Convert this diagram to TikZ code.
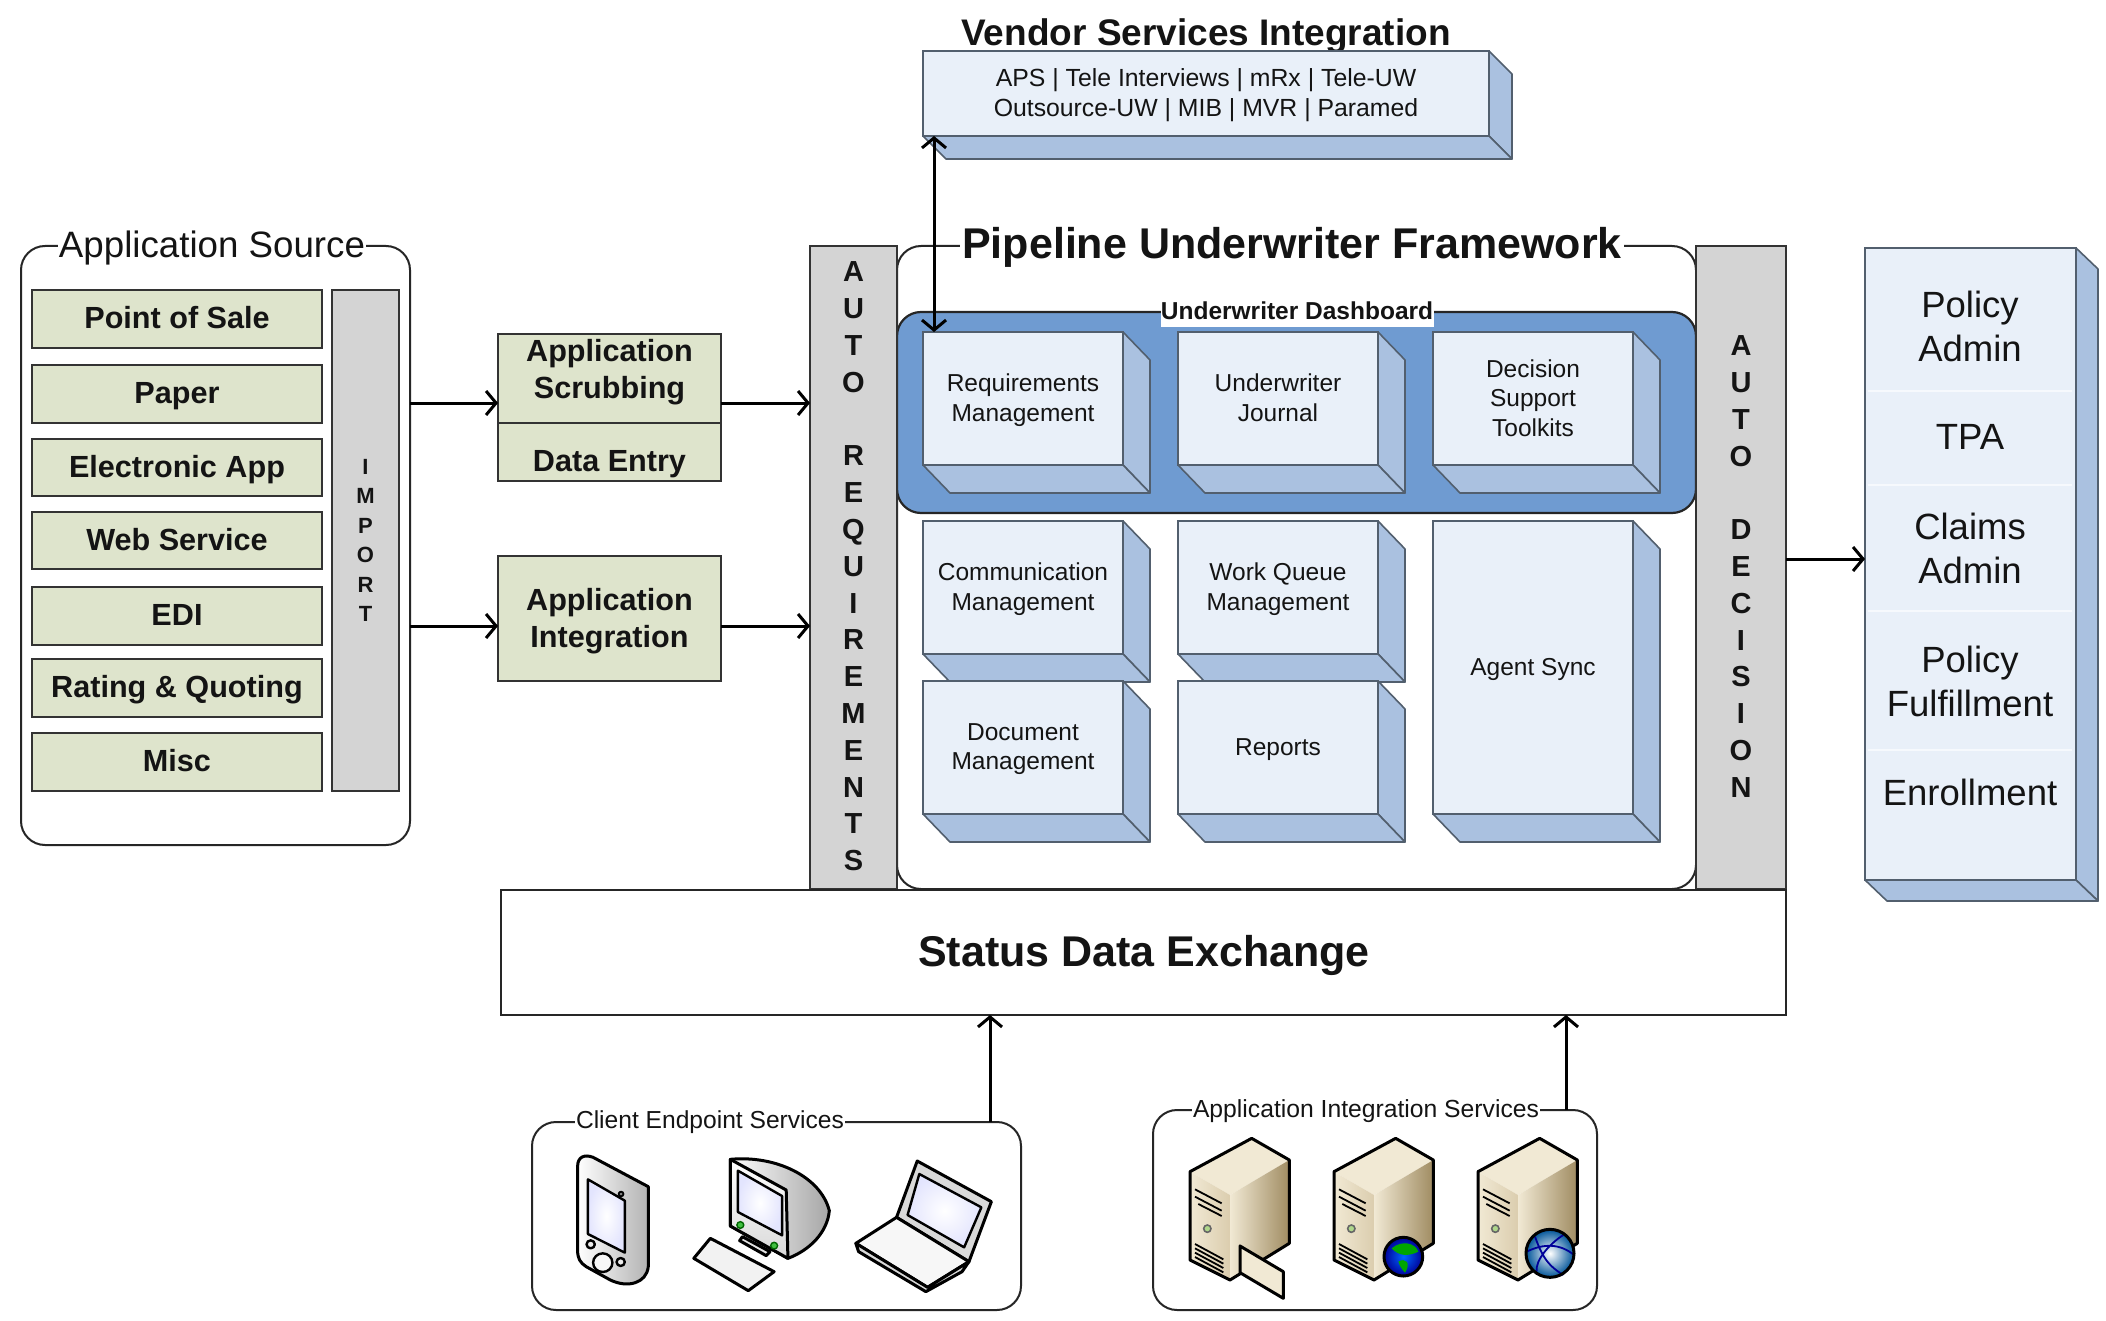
\documentclass[tikz,border=0pt]{standalone}
\usepackage{fontspec}
\setmainfont{Liberation Sans}
\usetikzlibrary{arrows.meta}
\definecolor{faceblue}{HTML}{E9F0F9}
\definecolor{sideblue}{HTML}{AAC1E0}
\definecolor{dashblue}{HTML}{6F9BD1}
\definecolor{edgeblue}{HTML}{525F6E}
\definecolor{greenbox}{HTML}{DEE4CC}
\definecolor{grayband}{HTML}{D4D4D4}
\definecolor{srvlight}{HTML}{F1E9D4}
\definecolor{srvmid}{HTML}{DBCDAE}
\definecolor{srvdark}{HTML}{A08C62}
\newcommand\fz[2]{\fontsize{#1}{#2}\selectfont}
\tikzset{
  every node/.style={inner sep=0pt,outer sep=0pt,text=black!92},
  greenstyle/.style={draw=black!80,line width=2.5pt,fill=greenbox},
  greentext/.style={font=\fz{30.6}{37}\bfseries,align=center},
  greenone/.style={greenstyle,greentext,text height=22pt,text depth=3pt},
  bandstyle/.style={draw=black!80,line width=2.5pt,fill=grayband,align=center},
  roundbox/.style={draw=black!85,line width=2pt,rounded corners=24pt,fill=white},
  titlelabel/.style={fill=white,inner xsep=1pt,inner ysep=1pt},
  faceplain/.style={draw=edgeblue,line width=1.6pt,fill=faceblue},
  facetext/.style={font=\fz{24.5}{29.5},align=center},
  sideface/.style={draw=edgeblue,line width=1.6pt,fill=sideblue,line join=round},
  arr/.style={draw=black,line width=3pt,-{Straight Barb[length=10pt,width=24pt,line width=3pt]}},
  arrboth/.style={draw=black,line width=3pt,{Straight Barb[length=10pt,width=24pt,line width=3pt]}-{Straight Barb[length=10pt,width=24pt,line width=3pt]}},
  icon/.style={draw=black,line width=3pt,line join=round},
  thinicon/.style={draw=black,line width=1.8pt,line join=round},
}
% box given by its corners: [style]{name}{x1}{y1}{x2}{y2}{text}
\newcommand\bx[7][]{%
  \pgfmathsetmacro\bxcx{(#3+#5)/2}\pgfmathsetmacro\bxcy{(#4+#6)/2}%
  \pgfmathsetmacro\bxw{#5-#3}\pgfmathsetmacro\bxh{#6-#4}%
  \node[#1,minimum width=\bxw pt,minimum height=\bxh pt,anchor=center] (#2) at (\bxcx,\bxcy) {#7};}
% cuboid: {depth x}{depth y}{name}{x1}{y1}{x2}{y2}{text}
\newcommand\cuboid[8]{%
  \bx[faceplain]{#3}{#4}{#5}{#6}{#7}{}%
  \node[facetext,yshift=-1.7pt] (#3text) at (#3.center) {#8};%
  \draw[sideface] (#3.north east) -- ++(#1,#2) -- ([shift={(#1,#2)}]#3.south east) -- (#3.south east) -- cycle;%
  \draw[sideface] (#3.south west) -- ++(#1,#2) -- ([shift={(#1,#2)}]#3.south east) -- (#3.south east) -- cycle;}
\newcommand\server[1]{%
  \begin{scope}[shift={(#1,0)}]
    \fill[srvlight] (180,275) -- (365,175) -- (478,240) -- (300,345) -- cycle;
    \shade[left color=srvlight,right color=srvmid] (180,275) -- (300,345) -- (300,600) -- (180,540) -- cycle;
    \shade[left color=srvlight,right color=srvdark] (300,345) -- (478,240) -- (478,490) -- (300,600) -- cycle;
    \draw[icon] (180,275) -- (365,175) -- (478,240) -- (478,490) -- (300,600) -- (180,540) -- cycle;
    \draw[thinicon] (195,328) -- (275,370) (195,350) -- (275,392) (205,372) -- (275,408);
    \draw[draw=black!60,line width=1.6pt,fill=green!20!srvmid] (232,446) circle[radius=11];
    \draw[thinicon] (195,492) -- (280,538) (195,505) -- (280,551) (195,518) -- (280,564) (195,531) -- (280,577);
  \end{scope}}
\begin{document}
\begin{tikzpicture}[x=1pt,y=-1pt]
\useasboundingbox[fill=white] (0,0) rectangle (2106,1321);
% Application source
\bx[roundbox]{appsource}{21}{246}{410}{845}{}
\node[titlelabel,font=\fz{36.7}{42}] (appsourcelabel) at (212,248) {Application Source};
\bx[greenone]{pos}{32}{290}{322}{348}{Point of Sale}
\bx[greenone]{paper}{32}{365}{322}{423}{Paper}
\bx[greenone]{elec}{32}{439}{322}{496}{Electronic App}
\bx[greenone]{web}{32}{512}{322}{569}{Web Service}
\bx[greenone]{edi}{32}{587}{322}{645}{EDI}
\bx[greenone]{rating}{32}{659}{322}{717}{Rating \& Quoting}
\bx[greenone]{misc}{32}{733}{322}{791}{Misc}
\bx[bandstyle,font=\fz{22}{29.5}\bfseries]{import}{332}{290}{399}{791}{I\\M\\P\\O\\R\\T}
% Middle boxes
\bx[greenstyle]{scrub}{498}{334}{721}{423}{}
\node[greentext] (scrubtext) at (609.5,372.5) {Application\\Scrubbing};
\bx[greenstyle]{dataentry}{498}{423}{721}{481}{}
\node[greentext] (dataentrytext) at (609.5,464.5) {Data Entry};
\bx[greenstyle]{integ}{498}{556}{721}{681}{}
\node[greentext] (integtext) at (609.5,621) {Application\\Integration};
% Framework
\bx[roundbox]{framework}{897}{246}{1696}{889}{}
\node[titlelabel,font=\fz{43}{50}\bfseries,inner xsep=2pt] (frameworktitle) at (1292,247) {Pipeline Underwriter Framework};
\bx[draw=black!85,line width=2.2pt,rounded corners=24pt,fill=dashblue]{dashboard}{897}{312}{1696}{513}{}
\node[fill=white,font=\fz{24.5}{28}\bfseries,minimum width=273pt,text height=17.5pt,text depth=7.5pt,anchor=base] (dashlabel) at (1297,319.5) {Underwriter Dashboard};
\cuboid{27}{28}{req}{923}{332}{1123}{465}{Requirements\\Management}
\cuboid{27}{28}{journal}{1178}{332}{1378}{465}{Underwriter\\Journal\vphantom{g}}
\cuboid{27}{28}{toolkits}{1433}{332}{1633}{465}{Decision\\Support\\Toolkits\vphantom{g}}
\cuboid{27}{28}{comm}{923}{521}{1123}{654}{Communication\\Management}
\cuboid{27}{28}{queue}{1178}{521}{1378}{654}{Work Queue\\Management}
\cuboid{27}{28}{doc}{923}{681}{1123}{814}{Document\\Management}
\cuboid{27}{28}{reports}{1178}{681}{1378}{814}{Reports}
\cuboid{27}{28}{agent}{1433}{521}{1633}{814}{Agent Sync}
% Auto bands
\bx[bandstyle]{autoreq}{810}{246}{897}{889}{}
\node[font=\fz{29}{36.8}\bfseries,align=center,yshift=1pt] (autoreqtext) at (autoreq.center) {A\\U\\T\\O\\~\\R\\E\\Q\\U\\I\\R\\E\\M\\E\\N\\T\\S};
\bx[bandstyle]{autodec}{1696}{246}{1786}{889}{}
\node[font=\fz{29}{36.8}\bfseries,align=center,yshift=1pt] (autodectext) at (autodec.center) {A\\U\\T\\O\\~\\D\\E\\C\\I\\S\\I\\O\\N};
% Status
\bx[draw=black!85,line width=2.2pt,fill=white]{status}{501}{890}{1786}{1015}{}
\node[font=\fz{43}{50}\bfseries] (statustext) at (1144,955) {Status Data Exchange};
% Vendor
\node[font=\fz{37}{42}\bfseries] (vendortitle) at (1206,36) {Vendor Services Integration};
\tikzset{facetext/.append style={font=\fz{24.8}{29.5}}}
\cuboid{23}{23}{vendor}{923}{51}{1489}{136}{APS | Tele Interviews | mRx | Tele-UW\\Outsource-UW | MIB | MVR | Paramed}
% Right panel
\cuboid{22}{21}{panel}{1865}{248}{2076}{880}{}
\draw[white!60!faceblue,line width=2pt] (1868,391) -- (2072,391) (1868,485) -- (2072,485) (1868,611) -- (2072,611) (1868,750) -- (2072,750);
\tikzset{paneltext/.style={font=\fz{36.5}{44},align=center}}
\node[paneltext] (padmin) at (1970,326) {Policy\\Admin};
\node[paneltext] (tpa) at (1970,437) {TPA};
\node[paneltext] (cadmin) at (1970,548) {Claims\\Admin};
\node[paneltext] (pfulfil) at (1970,681) {Policy\\Fulfillment};
\node[paneltext] (enroll) at (1970,792) {Enrollment};
% Bottom containers
\bx[roundbox]{client}{532}{1122}{1021}{1310}{}
\node[titlelabel,font=\fz{24.6}{28}] (clientlabel) at (710,1122) {Client Endpoint Services};
\bx[roundbox]{appsvc}{1153}{1110}{1597}{1310}{}
\node[titlelabel,font=\fz{24.7}{28}] (appsvclabel) at (1366,1111) {Application Integration Services};
% Connectors
\coordinate (rowa) at (0,403);
\coordinate (rowb) at (0,626);
\coordinate (rowc) at (0,559);
\coordinate (cola) at (990,0);
\coordinate (colb) at (1566,0);
\draw[arr] (appsource.east |- rowa) -- (scrub.west |- rowa);
\draw[arr] (appsource.east |- rowb) -- (integ.west |- rowb);
\draw[arr] (scrub.east |- rowa) -- (autoreq.west |- rowa);
\draw[arr] (integ.east |- rowb) -- (autoreq.west |- rowb);
\draw[arr] (autodec.east |- rowc) -- (panel.west |- rowc);
\draw[arr] (cola |- client.north) -- (cola |- status.south);
\draw[arr] (colb |- appsvc.north) -- (colb |- status.south);
\draw[arrboth] ([xshift=11pt]vendor.south west) -- ([xshift=11pt]req.north west);
% Client icons
\begin{scope}[shift={(500,1080)},xscale=1/2.9,yscale=1/3]
  % PDA
  \shade[left color=white,right color=black!30,icon] (225,260) .. controls (225,230) and (245,222) .. (270,232) -- (430,320) -- (430,560) .. controls (425,610) and (370,625) .. (320,600) -- (250,560) .. controls (232,548) and (225,535) .. (225,510) -- cycle;
  \shade[inner color=white,outer color=faceblue!70!blue!30,thinicon,line width=2.4pt] (255,298) -- (362,362) -- (362,518) -- (255,462) -- cycle;
  \draw[thinicon,fill=black!50] (351,342) circle[radius=7];
  \draw[thinicon,line width=2.4pt,fill=black!8] (263,493) circle[radius=12];
  \draw[thinicon,line width=2.4pt,fill=black!8] (350,546) circle[radius=12];
  \draw[thinicon,line width=2.4pt,fill=black!3] (298,548) circle[radius=28];
  % Desktop
  \shade[left color=white,right color=black!35,icon] (668,238) .. controls (800,225) and (930,290) .. (955,392) .. controls (950,455) and (900,510) .. (835,535) -- (668,438) -- cycle;
  \shade[top color=white,bottom color=black!15,icon] (668,238) -- (830,330) -- (835,535) -- (668,438) -- cycle;
  \shade[inner color=white,outer color=faceblue!70!blue!30,thinicon,line width=2.4pt] (690,272) -- (818,348) -- (818,466) -- (690,396) -- cycle;
  \draw[draw=black!60!green,line width=1.4pt,fill=green!50!gray] (697,435) circle[radius=10] (795,497) circle[radius=10];
  \draw[icon,fill=black!10] (703,470) -- (783,515) -- (772,527) -- (695,482) -- cycle;
  \draw[icon,fill=black!5] (610,475) -- (795,575) -- (720,632) -- (562,535) -- cycle;
  % Laptop
  \draw[icon,fill=black!15] (1210,243) -- (1425,365) -- (1360,545) -- (1150,412) -- cycle;
  \shade[inner color=white,outer color=faceblue!70!blue!30,thinicon,line width=2.4pt] (1216,282) -- (1396,382) -- (1346,502) -- (1182,405) -- cycle;
  \draw[icon,fill=black!3] (1150,412) -- (1360,545) -- (1240,622) -- (1032,490) -- cycle;
  \draw[icon,fill=black!15] (1032,490) -- (1240,622) -- (1360,545) -- (1340,575) -- (1235,635) -- (1040,515) -- cycle;
\end{scope}
% Server icons
\begin{scope}[shift={(1130,1080)},scale=1/3]
  \server{0}
  \server{432}
  \server{864}
  % envelope
  \draw[icon,fill=srvlight] (330,498) -- (460,575) -- (460,655) -- (330,578) -- cycle;
  % globe
  \shade[inner color=blue!60!cyan,outer color=blue!60!black] (820,530) circle[radius=58];
  \fill[green!65!black] (785,505) .. controls (815,480) and (855,488) .. (865,515) .. controls (835,530) and (805,528) .. (785,505) -- cycle;
  \fill[green!65!black] (805,545) .. controls (825,532) and (845,548) .. (825,578) .. controls (815,568) and (808,555) .. (805,545) -- cycle;
  \draw[icon] (820,530) circle[radius=58];
  % web sphere
  \shade[inner color=white,outer color=blue!45!cyan!60!black] (1260,520) circle[radius=72];
  \draw[draw=blue!60!black,line width=1.8pt] (1215,470) .. controls (1240,540) and (1260,560) .. (1300,585)
     (1300,465) .. controls (1260,490) and (1215,540) .. (1220,575)
     (1190,515) .. controls (1240,490) and (1290,490) .. (1332,525);
  \draw[icon] (1260,520) circle[radius=72];
\end{scope}
\end{tikzpicture}
\end{document}
